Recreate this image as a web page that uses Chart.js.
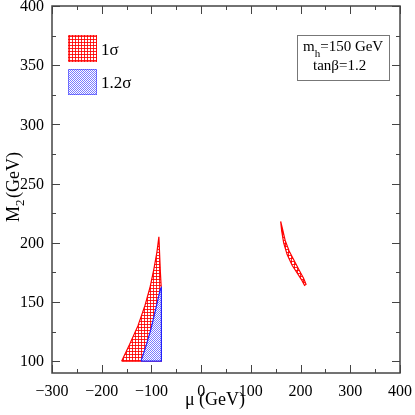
<!DOCTYPE html>
<html>
<head>
<meta charset="utf-8">
<script src="https://cdn.jsdelivr.net/npm/chart.js"></script>
<style>
  html, body { margin: 0; padding: 0; background: #fff; }
  #c { display: block; }
</style>
</head>
<body>
<canvas id="c" width="415" height="415"></canvas>
<script>
// axis ticks
const xTicks = [-300, -200, -100, 0, 100, 200, 300, 400];
const yTicks = [100, 150, 200, 250, 300, 350, 400];

// 1 sigma region (left), outline points mu / M2
const red1Mu = [-160, -144, -127, -113, -103, -95, -89, -85, -82, -80, -80, -160];
const red1M2 = [100, 114, 130, 147, 162, 178, 192, 205, 175, 160, 100, 100];

// 1 sigma region (right sliver)
const red2Mu = [160, 162, 166, 173, 183, 194, 203, 208, 211, 206, 197, 187, 177, 169, 164, 160];
const red2M2 = [218, 210, 200, 190, 181, 174, 168, 164, 165, 170, 177, 185, 193, 202, 211, 218];

// 1.2 sigma region
const blueMu = [-121, -110, -101, -93, -87, -82, -80, -80, -121];
const blueM2 = [100, 114, 127, 141, 152, 161, 162, 100, 100];

function pts(xs, ys) { return xs.map((x, i) => ({ x: x, y: ys[i] })); }

function makePattern(kind) {
  const p = document.createElement('canvas');
  const ctx = p.getContext('2d');
  if (kind === 'red') {
    p.width = 3; p.height = 3;
    ctx.fillStyle = '#fff'; ctx.fillRect(0, 0, 3, 3);
    ctx.fillStyle = 'rgba(255,0,0,0.85)';
    ctx.fillRect(0, 0, 3, 1);
    ctx.fillRect(0, 0, 1, 3);
  } else {
    p.width = 2; p.height = 2;
    ctx.fillStyle = '#fff'; ctx.fillRect(0, 0, 2, 2);
    ctx.fillStyle = 'rgba(80,80,255,0.75)';
    ctx.fillRect(0, 0, 1, 1);
    ctx.fillRect(1, 1, 1, 1);
  }
  return document.getElementById('c').getContext('2d').createPattern(p, 'repeat');
}
const redPat = makePattern('red');
const bluePat = makePattern('blue');

const serif = '"Liberation Serif", "DejaVu Serif", serif';
const fmt = v => (v < 0 ? '\u2212' + Math.abs(v) : String(v));

const framePlugin = {
  id: 'frame',
  afterDraw(chart) {
    const ctx = chart.ctx;
    const a = chart.chartArea;
    const xs = chart.scales.x, ys = chart.scales.y;
    ctx.save();
    ctx.strokeStyle = '#444';
    ctx.lineWidth = 1.5;
    ctx.strokeRect(a.left, a.top, a.right - a.left, a.bottom - a.top);
    ctx.lineWidth = 1;
    // x ticks, top and bottom
    for (let v = -300; v <= 400; v += 50) {
      const px = Math.round(xs.getPixelForValue(v)) + 0.5;
      const len = v % 100 === 0 ? 8 : 4;
      ctx.beginPath();
      ctx.moveTo(px, a.bottom); ctx.lineTo(px, a.bottom - len);
      ctx.moveTo(px, a.top); ctx.lineTo(px, a.top + len);
      ctx.stroke();
    }
    // y ticks, left and right
    for (let v = 100; v <= 400; v += 25) {
      const py = Math.round(ys.getPixelForValue(v)) + 0.5;
      const len = v % 50 === 0 ? 8 : 4;
      ctx.beginPath();
      ctx.moveTo(a.left, py); ctx.lineTo(a.left + len, py);
      ctx.moveTo(a.right, py); ctx.lineTo(a.right - len, py);
      ctx.stroke();
    }

    // tick labels
    ctx.fillStyle = '#000';
    ctx.font = '16px ' + serif;
    ctx.textAlign = 'center';
    ctx.textBaseline = 'alphabetic';
    xTicks.forEach(v => ctx.fillText(fmt(v), xs.getPixelForValue(v), 396));
    ctx.textAlign = 'right';
    ctx.textBaseline = 'middle';
    yTicks.forEach(v => ctx.fillText(fmt(v), 44, ys.getPixelForValue(v) + 1));

    // legend boxes
    ctx.fillStyle = redPat;
    ctx.fillRect(68, 35, 29, 27);
    ctx.strokeStyle = 'rgba(255,0,0,0.6)';
    ctx.strokeRect(68.5, 35.5, 28, 26);
    ctx.fillStyle = bluePat;
    ctx.fillRect(68, 69, 29, 26);
    ctx.strokeStyle = 'rgba(60,60,255,0.6)';
    ctx.strokeRect(68.5, 69.5, 28, 25);
    ctx.fillStyle = '#000';
    ctx.font = '17px ' + serif;
    ctx.textBaseline = 'alphabetic';
    ctx.textAlign = 'left';
    ctx.fillText('1σ', 101, 55);
    ctx.fillText('1.2σ', 101, 88);

    // annotation box
    ctx.strokeStyle = '#777';
    ctx.lineWidth = 1;
    ctx.strokeRect(297.5, 35.5, 92, 45);
    ctx.fillStyle = '#000';
    ctx.font = '15px ' + serif;
    ctx.fillText('m', 303, 51);
    let w = ctx.measureText('m').width;
    ctx.font = '11px ' + serif;
    ctx.fillText('h', 303 + w, 57);
    w += ctx.measureText('h').width;
    ctx.font = '15px ' + serif;
    ctx.fillText('=150 GeV', 303 + w, 51);
    ctx.fillText('tanβ=1.2', 313, 70);

    // axis titles
    ctx.font = '18px ' + serif;
    ctx.textAlign = 'center';
    ctx.fillText('μ (GeV)', 215, 405);
    ctx.save();
    ctx.translate(19, 222);
    ctx.rotate(-Math.PI / 2);
    ctx.textAlign = 'left';
    ctx.font = '18px ' + serif;
    ctx.fillText('M', 0, 0);
    const mw = ctx.measureText('M').width;
    ctx.font = '13px ' + serif;
    ctx.fillText('2', mw, 5);
    ctx.font = '18px ' + serif;
    ctx.fillText('(GeV)', mw + 8, 0);
    ctx.restore();
    ctx.restore();
  }
};

const regionStyle = (fillPat, line) => ({
  showLine: true,
  fill: 'shape',
  backgroundColor: fillPat,
  borderColor: line,
  borderWidth: 1.2,
  pointRadius: 0,
  tension: 0
});

new Chart(document.getElementById('c'), {
  type: 'scatter',
  data: {
    datasets: [
      Object.assign({ label: '1σ', order: 2, data: pts(red1Mu, red1M2) }, regionStyle(redPat, '#ff0000')),
      Object.assign({ label: '1σ b', order: 2, data: pts(red2Mu, red2M2) }, regionStyle(redPat, '#ff0000')),
      Object.assign({ label: '1.2σ', order: 1, data: pts(blueMu, blueM2) }, regionStyle(bluePat, '#2020ff'))
    ]
  },
  options: {
    responsive: false,
    animation: false,
    layout: { padding: { left: 0, top: 6, right: 15, bottom: 0 } },
    plugins: { legend: { display: false }, tooltip: { enabled: false } },
    scales: {
      x: {
        type: 'linear', min: -300, max: 400,
        grid: { display: false },
        border: { display: false },
        afterBuildTicks: s => { s.ticks = xTicks.map(v => ({ value: v })); },
        afterFit: s => { s.height = 42; s.paddingLeft = 0; s.paddingRight = 0; },
        ticks: { display: false }
      },
      y: {
        type: 'linear', min: 90, max: 400,
        grid: { display: false },
        border: { display: false },
        afterBuildTicks: s => { s.ticks = yTicks.map(v => ({ value: v })); },
        afterFit: s => { s.width = 52; s.paddingTop = 0; s.paddingBottom = 0; },
        ticks: { display: false }
      }
    }
  },
  plugins: [framePlugin]
});
</script>
</body>
</html>
